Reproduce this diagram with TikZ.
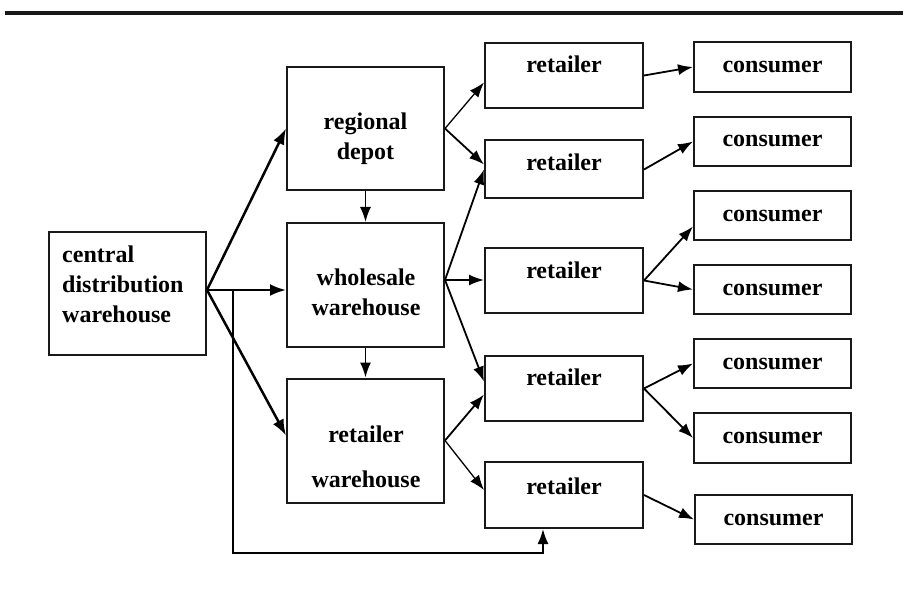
\documentclass[tikz,border=0pt]{standalone}
\usepackage{fontspec}
\setmainfont{Liberation Serif}
\usetikzlibrary{arrows.meta}

\tikzset{
  box/.style={draw=black!90, line width=2pt, inner sep=0pt},
  bigbox/.style={box, minimum width=157pt, minimum height=123pt},
  retbox/.style={box, minimum width=158pt},
  conbox/.style={box, minimum width=157pt, minimum height=49pt},
  lbl/.style={font=\fontsize{24}{30}\selectfont\bfseries, inner sep=0pt},
  arr/.style={-{Latex[length=15pt,width=11pt]}, line width=1.8pt},
  bigarr/.style={-{Latex[length=16pt,width=12pt]}, line width=2.5pt}
}

\begin{document}
\begin{tikzpicture}[x=1pt,y=-1pt]
\path[fill=white] (0,0) rectangle (903,596);
\useasboundingbox (0,0) rectangle (903,596);

\draw[line width=4pt, black!90] (5,13)--(903,13);

\node[bigbox] (cdw) at (127.5,293.5) {};
\node[bigbox] (rd) at (365.5,128.5) {};
\node[bigbox, minimum height=124pt] (ww) at (365.5,285) {};
\node[bigbox, minimum height=124pt] (rw) at (365.5,440.5) {};

\node[retbox, minimum height=65pt] (r1) at (564,75.5) {};
\node[retbox, minimum height=58pt] (r2) at (564,169.5) {};
\node[retbox, minimum height=65pt] (r3) at (564,280.5) {};
\node[retbox, minimum height=65pt] (r4) at (564,388.5) {};
\node[retbox, minimum height=66pt] (r5) at (564,495) {};

\node[conbox, minimum height=50pt] (c1) at (772.5,67) {};
\node[conbox] (c2) at (772.5,141.5) {};
\node[conbox] (c3) at (772.5,215.5) {};
\node[conbox] (c4) at (772.5,289.5) {};
\node[conbox] (c5) at (772.5,363.5) {};
\node[conbox, minimum height=50pt] (c6) at (772.5,438) {};
\node[conbox] (c7) at (773.5,519.5) {};

\node[lbl, anchor=north west, align=left] (cdwtext) at (62,246) {central\\distribution\\warehouse};
\node[lbl, anchor=north, align=center] (rdtext) at (365.5,113) {regional\\depot};
\node[lbl, anchor=north, align=center] (wwtext) at (366,269) {wholesale\\warehouse};
\node[lbl, anchor=north, align=center] (rwtext) at (366,426) {retailer\\[15pt]warehouse};

\node[lbl, anchor=base] (r1text) at (564,73) {retailer};
\node[lbl, anchor=base] (r2text) at (564,171) {retailer};
\node[lbl, anchor=base] (r3text) at (564,279) {retailer};
\node[lbl, anchor=base] (r4text) at (564,385.5) {retailer};
\node[lbl, anchor=base] (r5text) at (564,494) {retailer};

\node[lbl, anchor=base] (c1text) at (772.5,73) {consumer};
\node[lbl, anchor=base] (c2text) at (772.5,147) {consumer};
\node[lbl, anchor=base] (c3text) at (772.5,222) {consumer};
\node[lbl, anchor=base] (c4text) at (772.5,296) {consumer};
\node[lbl, anchor=base] (c5text) at (772.5,370) {consumer};
\node[lbl, anchor=base] (c6text) at (772.5,443) {consumer};
\node[lbl, anchor=base] (c7text) at (773.5,525) {consumer};

\coordinate (hub) at ([yshift=3.5pt]cdw.east);
\coordinate (bend) at (233,553);
\draw[bigarr] (hub)--(rd.west);
\draw[bigarr] (hub)--(hub -| ww.west);
\draw[bigarr] (hub)--([yshift=5pt]rw.west);
\draw[arr] (hub)--(hub -| bend)--(bend) -| ([xshift=-21pt]r5.south);

\draw[arr] (rd.south)--(ww.north);
\draw[arr] (ww.south)--(rw.north);

\coordinate (wwout) at ([yshift=5pt]ww.east);
\draw[arr, line width=1.3pt] (rd.east)--([yshift=-7pt]r1.west);
\draw[arr] (rd.east)--([yshift=5pt]r2.west);
\draw[arr] (wwout)--(r2.west);
\draw[arr] (wwout)--(wwout -| r3.west);
\draw[arr] (wwout)--([yshift=7pt]r4.west);
\draw[arr] (rw.east)--([yshift=-6pt]r4.west);
\draw[arr, line width=1.3pt] (rw.east)--([yshift=5pt]r5.west);

\draw[arr] (r1.east)--(c1.west);
\draw[arr] (r2.east)--(c2.west);
\draw[arr] (r3.east)--([yshift=-11pt]c3.west);
\draw[arr] (r3.east)--(c4.west);
\draw[arr] (r4.east)--(c5.west);
\draw[arr] (r4.east)--(c6.west);
\draw[arr] (r5.east)--(c7.west);

\end{tikzpicture}
\end{document}
